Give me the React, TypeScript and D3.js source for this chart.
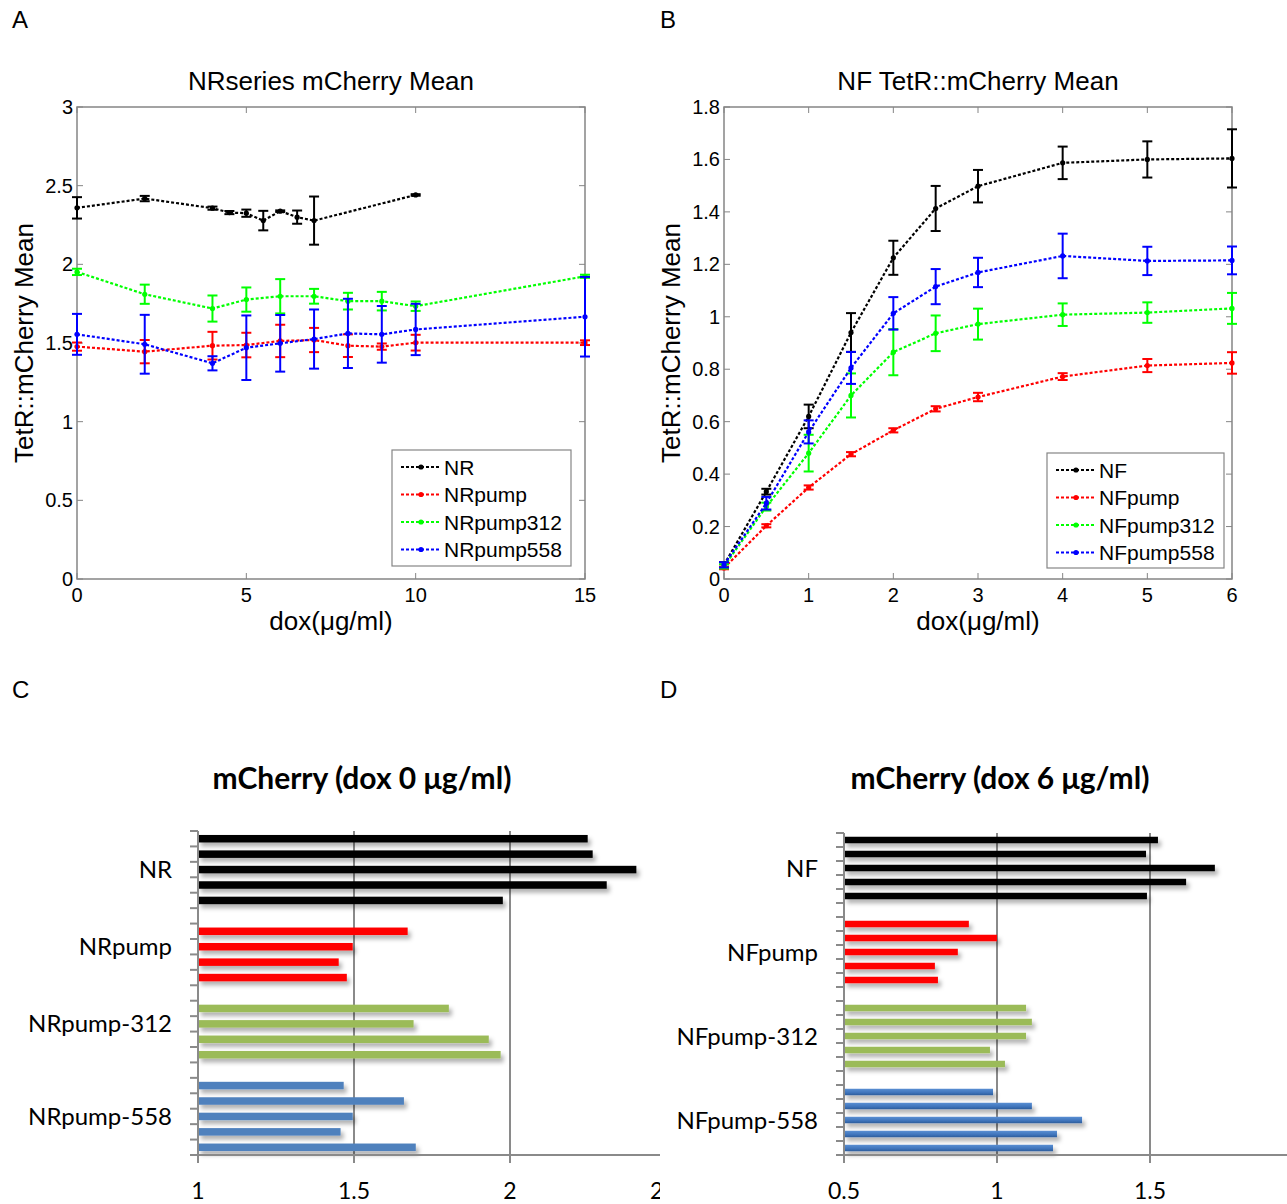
import * as d3 from "d3";

// ---- panel A : NR series, mean +- err vs dox ----
const nrDox = [0, 2, 4, 5, 6, 7, 8, 9, 10, 15];
const nrDoxBlack = [0, 2, 4, 4.5, 5, 5.5, 6, 6.5, 7, 10];
const nrMean = [2.359, 2.418, 2.357, 2.329, 2.325, 2.278, 2.338, 2.3, 2.278, 2.441];
const nrErr = [0.068, 0.017, 0.01, 0.01, 0.023, 0.062, 0.005, 0.042, 0.153, 0.005];
const nrpumpMean = [1.477, 1.445, 1.483, 1.487, 1.513, 1.519, 1.483, 1.477, 1.502, 1.502];
const nrpumpErr = [0.026, 0.074, 0.088, 0.078, 0.103, 0.077, 0.072, 0.02, 0.05, 0.015];
const nrpump312Mean = [1.952, 1.81, 1.719, 1.776, 1.797, 1.797, 1.766, 1.766, 1.734, 1.924];
const nrpump312Err = [0.02, 0.061, 0.083, 0.077, 0.109, 0.047, 0.053, 0.059, 0.03, 0.01];
const nrpump558Mean = [1.555, 1.492, 1.371, 1.47, 1.498, 1.525, 1.561, 1.555, 1.586, 1.667];
const nrpump558Err = [0.13, 0.187, 0.045, 0.205, 0.18, 0.188, 0.22, 0.18, 0.163, 0.253];

// ---- panel B : NF series ----
const nfDox = [0, 0.5, 1, 1.5, 2, 2.5, 3, 4, 5, 6];
const nfMean = [0.054, 0.333, 0.62, 0.94, 1.225, 1.413, 1.498, 1.587, 1.6, 1.604];
const nfErr = [0.01, 0.011, 0.045, 0.074, 0.065, 0.086, 0.062, 0.062, 0.069, 0.111];
const nfpumpMean = [0.042, 0.203, 0.349, 0.476, 0.567, 0.649, 0.694, 0.772, 0.814, 0.824];
const nfpumpErr = [0.005, 0.006, 0.008, 0.008, 0.008, 0.01, 0.016, 0.013, 0.025, 0.041];
const nfpump312Mean = [0.048, 0.276, 0.48, 0.7, 0.865, 0.937, 0.972, 1.008, 1.016, 1.032];
const nfpump312Err = [0.008, 0.015, 0.07, 0.084, 0.088, 0.068, 0.059, 0.043, 0.039, 0.059];
const nfpump558Mean = [0.054, 0.289, 0.561, 0.805, 1.013, 1.115, 1.169, 1.232, 1.213, 1.215];
const nfpump558Err = [0.01, 0.024, 0.044, 0.061, 0.062, 0.067, 0.056, 0.085, 0.054, 0.053];

// ---- panel C : bars at dox 0 (null = empty slot) ----
const nrBars = [2.249, 2.265, 2.405, 2.31, 1.977];
const nrpumpBars = [null, 1.672, 1.496, 1.451, 1.477];
const nrpump312Bars = [null, 1.804, 1.691, 1.932, 1.97];
const nrpump558Bars = [1.467, 1.66, 1.496, 1.457, 1.698];
const cTicks = [1, 1.5, 2, 2.5];

// ---- panel D : bars at dox 6 ----
const nfBars = [1.526, 1.487, 1.712, 1.618, 1.49];
const nfpumpBars = [0.908, 1.0, 0.872, 0.797, 0.807];
const nfpump312Bars = [1.095, 1.114, 1.095, 0.977, 1.026];
const nfpump558Bars = [0.987, 1.114, 1.278, 1.196, 1.183];
const dTicks = [0.5, 1, 1.5];

const ML = "'Liberation Sans', Arial, sans-serif";
const XL = "Lato, 'Open Sans', sans-serif";
const frame = "#858585";
const grid = "#8a8a8a";

type Series = { name: string; color: string; x: number[]; y: number[]; e: number[] };

function LinePanel({ box, xDomain, yDomain, xTicks, yTicks, title, series, legend }: any) {
  const x = d3.scaleLinear().domain(xDomain).range([box.l, box.r]);
  const y = d3.scaleLinear().domain(yDomain).range([box.b, box.t]);
  const line = d3.line<[number, number]>().x((d) => x(d[0])).y((d) => y(d[1]));
  const cx = (box.l + box.r) / 2;
  const cy = (box.t + box.b) / 2;
  return (
    <g fontFamily={ML}>
      <text x={cx} y={90} textAnchor="middle" fontSize={26}>{title}</text>
      <text x={cx} y={630} textAnchor="middle" fontSize={26}>dox(μg/ml)</text>
      <text transform={`translate(${box.l - 44},${cy}) rotate(-90)`} textAnchor="middle" fontSize={26}>TetR::mCherry Mean</text>
      {xTicks.map((t: number) => (
        <g key={"x" + t}>
          <line x1={x(t)} x2={x(t)} y1={box.b} y2={box.b - 6} stroke={frame} />
          <line x1={x(t)} x2={x(t)} y1={box.t} y2={box.t + 6} stroke={frame} />
          <text x={x(t)} y={box.b + 23} textAnchor="middle" fontSize={20}>{t}</text>
        </g>
      ))}
      {yTicks.map((t: number) => (
        <g key={"y" + t}>
          <line x1={box.l} x2={box.l + 6} y1={y(t)} y2={y(t)} stroke={frame} />
          <line x1={box.r} x2={box.r - 6} y1={y(t)} y2={y(t)} stroke={frame} />
          <text x={box.l - 4} y={y(t) + 7} textAnchor="end" fontSize={20}>{t}</text>
        </g>
      ))}
      <rect x={box.l} y={box.t} width={box.r - box.l} height={box.b - box.t} fill="none" stroke={frame} strokeWidth={1.5} />
      {series.map((s: Series) => (
        <g key={s.name}>
          <path d={line(s.x.map((v, i) => [v, s.y[i]]) as any) || ""} fill="none" stroke={s.color} strokeWidth={2.2} strokeDasharray="3 2" />
          {s.x.map((v, i) => (
            <g key={i} stroke={s.color} strokeWidth={2}>
              <line x1={x(v)} x2={x(v)} y1={y(s.y[i] - s.e[i])} y2={y(s.y[i] + s.e[i])} />
              <line x1={x(v) - 5} x2={x(v) + 5} y1={y(s.y[i] - s.e[i])} y2={y(s.y[i] - s.e[i])} />
              <line x1={x(v) - 5} x2={x(v) + 5} y1={y(s.y[i] + s.e[i])} y2={y(s.y[i] + s.e[i])} />
              <circle cx={x(v)} cy={y(s.y[i])} r={2.6} fill={s.color} stroke="none" />
            </g>
          ))}
        </g>
      ))}
      <rect x={legend.x} y={legend.y} width={legend.w} height={legend.h} fill="#fff" stroke={frame} strokeWidth={1.2} />
      {series.map((s: Series, i: number) => {
        const ly = legend.y + 17 + i * 27.5;
        return (
          <g key={"lg" + s.name}>
            <line x1={legend.x + 9} x2={legend.x + 48} y1={ly} y2={ly} stroke={s.color} strokeWidth={2.2} strokeDasharray="3 2" />
            <circle cx={legend.x + 29} cy={ly} r={2.6} fill={s.color} />
            <text x={legend.x + 52} y={ly + 7.5} fontSize={21}>{s.name}</text>
          </g>
        );
      })}
    </g>
  );
}

type Group = { label: string; color: string; values: (number | null)[] };

function BarPanel({ id, left, top, bottom, xDomain, xRange, ticks, clipRight, title, titleX, groups, barH, labelX }: any) {
  const rows: { g: Group; v: number | null; key: string }[] = [];
  groups.forEach((g: Group, gi: number) => g.values.forEach((v, i) => rows.push({ g, v, key: gi + "-" + i })));
  const yb = d3.scaleBand<string>().domain(rows.map((r) => r.key)).range([top, bottom]);
  const x = d3.scaleLinear().domain(xDomain).range(xRange);
  const step = yb.step();
  let acc = 0;
  const labels = groups.map((g: Group) => {
    const y0 = top + acc * step;
    acc += g.values.length;
    return { label: g.label, y: (y0 + top + acc * step) / 2 };
  });
  return (
    <g>
      <defs>
        <clipPath id={"clip" + id}>
          <rect x={0} y={top - 60} width={clipRight} height={1204} />
        </clipPath>
      </defs>
      <text x={titleX} y={789} textAnchor="middle" fontFamily={XL} fontWeight={700} fontSize={30}>{title}</text>
      {labels.map((l: any) => l.label && (
        <text key={l.label} x={labelX} y={l.y + 8.5} textAnchor="end" fontFamily={XL} fontSize={24}>{l.label}</text>
      ))}
      <g clipPath={`url(#clip${id})`}>
        {ticks.slice(1).map((t: number) => (
          <line key={"g" + t} x1={x(t)} x2={x(t)} y1={top} y2={bottom} stroke={grid} strokeWidth={2} />
        ))}
        {rows.map((r) => r.v != null && (
          <rect key={r.key} x={x(xDomain[0])} y={(yb(r.key) as number) + step / 2 - barH / 2} width={x(r.v) - x(xDomain[0])} height={barH}
            fill={r.g.color} filter={`url(#shadow)`} />
        ))}
        <line x1={left} x2={clipRight} y1={bottom} y2={bottom} stroke={grid} strokeWidth={2} />
        {ticks.map((t: number) => (
          <g key={"t" + t}>
            <line x1={x(t)} x2={x(t)} y1={bottom} y2={bottom + 8} stroke={grid} strokeWidth={2} />
            <text x={x(t)} y={1199} textAnchor="middle" fontFamily={XL} fontSize={23}>{t}</text>
          </g>
        ))}
      </g>
      <line x1={left} x2={left} y1={top} y2={bottom} stroke={grid} strokeWidth={2} />
      {d3.range(rows.length + 1).map((i) => (
        <line key={"rt" + i} x1={left - 8} x2={left} y1={top + i * step} y2={top + i * step} stroke={grid} strokeWidth={2} />
      ))}
    </g>
  );
}

export default function App() {
  const seriesA: Series[] = [
    { name: "NR", color: "#000", x: nrDoxBlack, y: nrMean, e: nrErr },
    { name: "NRpump", color: "#ff0000", x: nrDox, y: nrpumpMean, e: nrpumpErr },
    { name: "NRpump312", color: "#00ff00", x: nrDox, y: nrpump312Mean, e: nrpump312Err },
    { name: "NRpump558", color: "#0000ff", x: nrDox, y: nrpump558Mean, e: nrpump558Err },
  ];
  const seriesB: Series[] = [
    { name: "NF", color: "#000", x: nfDox, y: nfMean, e: nfErr },
    { name: "NFpump", color: "#ff0000", x: nfDox, y: nfpumpMean, e: nfpumpErr },
    { name: "NFpump312", color: "#00ff00", x: nfDox, y: nfpump312Mean, e: nfpump312Err },
    { name: "NFpump558", color: "#0000ff", x: nfDox, y: nfpump558Mean, e: nfpump558Err },
  ];
  const groupsC: Group[] = [
    { label: "NR", color: "#000", values: nrBars },
    { label: "NRpump", color: "#ff0000", values: nrpumpBars },
    { label: "NRpump-312", color: "#9bbb59", values: nrpump312Bars },
    { label: "", color: "#000", values: [null] },
    { label: "NRpump-558", color: "#4f81bd", values: nrpump558Bars },
  ];
  const groupsD: Group[] = [
    { label: "NF", color: "#000", values: nfBars },
    { label: "", color: "#000", values: [null] },
    { label: "NFpump", color: "#ff0000", values: nfpumpBars },
    { label: "", color: "#000", values: [null] },
    { label: "NFpump-312", color: "#9bbb59", values: nfpump312Bars },
    { label: "", color: "#000", values: [null] },
    { label: "NFpump-558", color: "url(#blueGrad)", values: nfpump558Bars },
  ];
  return (
    <svg width={1287} height={1204} style={{ position: "absolute", left: 0, top: 0, background: "#fff" }}>
      <defs>
        <filter id="shadow" x="-5%" y="-100%" width="115%" height="400%">
          <feDropShadow dx={3} dy={4} stdDeviation={2} floodColor="#000" floodOpacity={0.3} />
        </filter>
        <linearGradient id="blueGrad" x1="0" y1="0" x2="0" y2="1">
          <stop offset="0" stopColor="#5a8fd3" />
          <stop offset="0.6" stopColor="#3f74bb" />
          <stop offset="1" stopColor="#2d5c9a" />
        </linearGradient>
      </defs>
      <g fontFamily={ML} fontSize={24}>
        <text x={12} y={28}>A</text>
        <text x={660} y={28}>B</text>
        <text x={12} y={698}>C</text>
        <text x={660} y={698}>D</text>
      </g>
      <LinePanel box={{ l: 77, r: 585, t: 107, b: 579 }} xDomain={[0, 15]} yDomain={[0, 3]}
        xTicks={[0, 5, 10, 15]} yTicks={[0, 0.5, 1, 1.5, 2, 2.5, 3]} title="NRseries mCherry Mean"
        series={seriesA} legend={{ x: 392, y: 450, w: 179, h: 116 }} />
      <LinePanel box={{ l: 724, r: 1232, t: 107, b: 579 }} xDomain={[0, 6]} yDomain={[0, 1.8]}
        xTicks={[0, 1, 2, 3, 4, 5, 6]} yTicks={[0, 0.2, 0.4, 0.6, 0.8, 1, 1.2, 1.4, 1.6, 1.8]} title="NF TetR::mCherry Mean"
        series={seriesB} legend={{ x: 1047, y: 453, w: 177, h: 115 }} />
      <BarPanel id="C" left={198} top={831} bottom={1155} xDomain={[1, 2.5]} xRange={[198, 666]} ticks={cTicks}
        clipRight={660} title="mCherry (dox 0 μg/ml)" titleX={362} groups={groupsC} barH={7.5} labelX={172} />
      <BarPanel id="D" left={844} top={833} bottom={1155} xDomain={[0.5, 2]} xRange={[844, 1303]} ticks={dTicks}
        clipRight={1287} title="mCherry (dox 6 μg/ml)" titleX={1000} groups={groupsD} barH={6.5} labelX={818} />
    </svg>
  );
}
